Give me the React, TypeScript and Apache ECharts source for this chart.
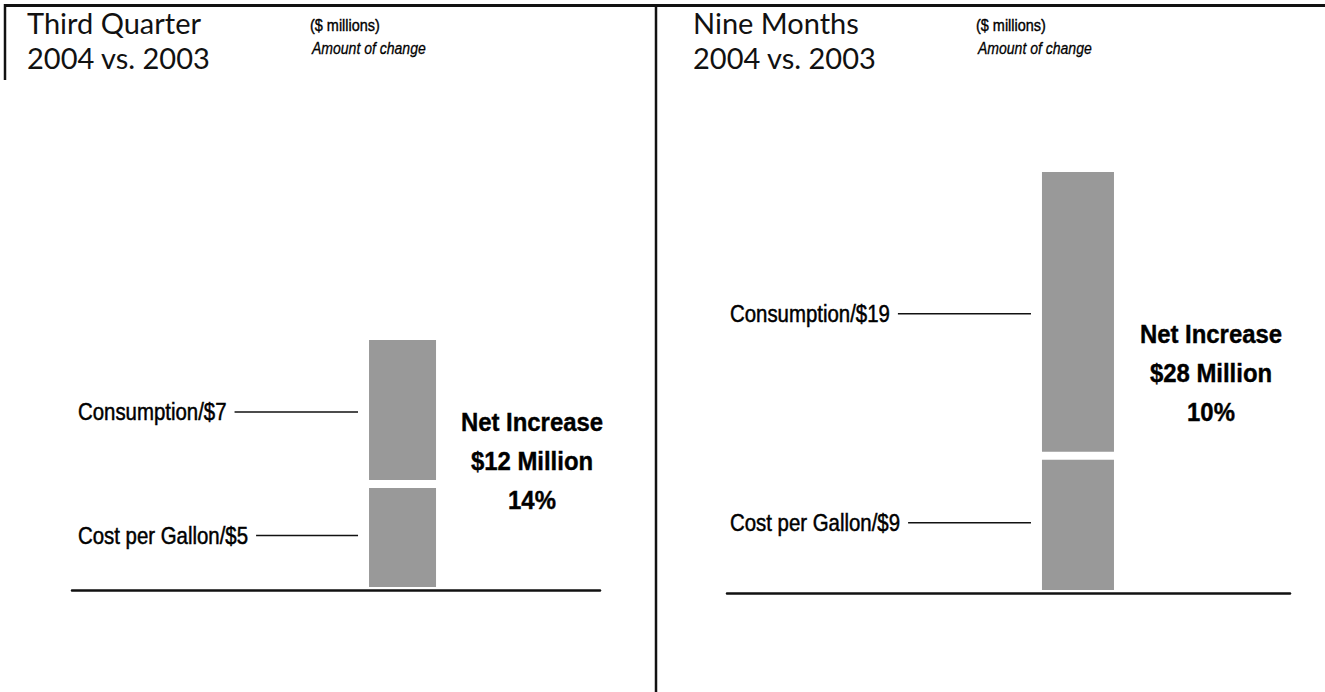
import React, { useEffect, useRef } from "react";
import * as echarts from "echarts";

// ---------- data ----------
const panelTitles = ["Third Quarter", "Nine Months"];
const panelSubtitle = "2004 vs. 2003";
const unitNote = "($ millions)";
const changeNote = "Amount of change";
const componentNames = ["Cost per Gallon", "Consumption"]; // bottom -> top
const thirdQuarterValues = [5, 7];
const nineMonthsValues = [9, 19];
const netIncreaseMillions = [12, 28];
const netIncreasePercent = [14, 10];

// ---------- layout ----------
const TITLE_FONT = "Lato, 'Open Sans', 'DejaVu Sans', sans-serif";
const COND_FONT = "'Liberation Sans', Arial, 'DejaVu Sans', sans-serif";
const COND_SCALE = 0.85;
const BAR_COLOR = "#999999";
const INK = "#111111";

const PANELS = [
  {
    values: thirdQuarterValues,
    gridLeft: 72,
    gridWidth: 528,
    gridTop: 340,
    gridBottomY: 587,
    barFrac: 0.626,
    barWidth: 67,
    labelX: 78,
    netX: 532,
    netY: 461,
    titleX: 27,
    noteX: 310,
  },
  {
    values: nineMonthsValues,
    gridLeft: 727,
    gridWidth: 563,
    gridTop: 172,
    gridBottomY: 590,
    barFrac: 0.6234,
    barWidth: 72,
    labelX: 730,
    netX: 1211,
    netY: 373,
    titleX: 693,
    noteX: 976,
  },
];

const LABEL_SIZE = 24;
const NET_SIZE = 26;
const NET_SCALE = 0.92;
const HALF_GAP = 4;

let measureCtx: CanvasRenderingContext2D | null = null;
function textWidth(text: string, font: string): number {
  if (!measureCtx) measureCtx = document.createElement("canvas").getContext("2d");
  if (!measureCtx) return text.length * 10;
  measureCtx.font = font;
  return measureCtx.measureText(text).width;
}

function buildOption() {
  const grid: any[] = [];
  const xAxis: any[] = [];
  const yAxis: any[] = [];
  const series: any[] = [];
  const graphic: any[] = [];

  PANELS.forEach((p, i) => {
    const total = p.values.reduce((a, b) => a + b, 0);
    grid.push({
      left: p.gridLeft,
      top: p.gridTop,
      width: p.gridWidth,
      height: p.gridBottomY - p.gridTop,
    });
    xAxis.push({
      type: "value",
      gridIndex: i,
      min: 0,
      max: 1,
      offset: 3,
      axisLine: { show: true, onZero: false, lineStyle: { color: INK, width: 2.5 } },
      axisTick: { show: false },
      axisLabel: { show: false },
      splitLine: { show: false },
    });
    yAxis.push({
      type: "value",
      gridIndex: i,
      min: 0,
      max: total,
      show: false,
      splitLine: { show: false },
    });

    let cum = 0;
    const segs = p.values.map((v, k) => {
      const s = [cum, cum + v, k, v];
      cum += v;
      return s;
    });
    const n = p.values.length;
    const labelFont = `normal normal ${LABEL_SIZE}px ${COND_FONT}`;

    series.push({
      type: "custom",
      xAxisIndex: i,
      yAxisIndex: i,
      silent: true,
      data: segs,
      renderItem: (params: any, api: any) => {
        const y0 = api.value(0);
        const y1 = api.value(1);
        const k = api.value(2);
        const v = api.value(3);
        const pb = api.coord([p.barFrac, y0]);
        const pt = api.coord([p.barFrac, y1]);
        const bottom = pb[1] - (k > 0 ? HALF_GAP : 0);
        const top = pt[1] + (k < n - 1 ? HALF_GAP : 0);
        const left = pb[0] - p.barWidth / 2;
        const midY = (pb[1] + pt[1]) / 2;
        const label = `${componentNames[k]}/$${v}`;
        const tw = textWidth(label, labelFont) * COND_SCALE;
        return {
          type: "group",
          children: [
            {
              type: "rect",
              shape: { x: left, y: top, width: p.barWidth, height: bottom - top },
              style: { fill: BAR_COLOR },
            },
            {
              type: "text",
              x: p.labelX,
              y: midY,
              scaleX: COND_SCALE,
              style: {
                text: label,
                x: 0,
                y: 0,
                fill: "#000",
                stroke: "#000",
                lineWidth: 0.5,
                fontSize: LABEL_SIZE,
                fontFamily: COND_FONT,
                align: "left",
                verticalAlign: "middle",
              },
            },
            {
              type: "line",
              shape: { x1: p.labelX + tw + 8, y1: midY, x2: left - 11, y2: midY },
              style: { stroke: INK, lineWidth: 1.6 },
            },
          ],
        };
      },
    });

    // titles and notes
    graphic.push(
      {
        type: "text",
        x: p.titleX,
        y: 22,
        style: { text: panelTitles[i], fill: INK, fontSize: 29, fontWeight: 400, fontFamily: TITLE_FONT, verticalAlign: "middle" },
      },
      {
        type: "text",
        x: p.titleX,
        y: 57.5,
        style: { text: panelSubtitle, fill: INK, fontSize: 29, fontWeight: 400, fontFamily: TITLE_FONT, verticalAlign: "middle" },
      },
      {
        type: "text",
        x: p.noteX,
        y: 25,
        scaleX: COND_SCALE,
        style: { text: unitNote, fill: "#000", stroke: "#000", lineWidth: 0.4, fontSize: 17, fontFamily: COND_FONT, verticalAlign: "middle" },
      },
      {
        type: "text",
        x: p.noteX + 2,
        y: 48,
        scaleX: COND_SCALE,
        style: {
          text: changeNote,
          fill: "#000",
          stroke: "#000",
          lineWidth: 0.3,
          fontSize: 16.5,
          fontStyle: "italic",
          fontFamily: COND_FONT,
          verticalAlign: "middle",
        },
      },
      {
        type: "text",
        x: p.netX,
        y: p.netY,
        scaleX: NET_SCALE,
        style: {
          text: `Net Increase\n$${netIncreaseMillions[i]} Million\n${netIncreasePercent[i]}%`,
          fill: "#000",
          stroke: "#000",
          lineWidth: 0.4,
          fontSize: NET_SIZE,
          fontWeight: "bold",
          fontFamily: COND_FONT,
          lineHeight: 39,
          align: "center",
          verticalAlign: "middle",
        },
      }
    );
  });

  // frame lines
  graphic.push(
    { type: "line", shape: { x1: 4, y1: 5.5, x2: 1325, y2: 5.5 }, style: { stroke: INK, lineWidth: 3 } },
    { type: "line", shape: { x1: 5, y1: 4, x2: 5, y2: 80 }, style: { stroke: INK, lineWidth: 2.5 } },
    { type: "line", shape: { x1: 656, y1: 4, x2: 656, y2: 692 }, style: { stroke: INK, lineWidth: 2.5 } }
  );

  return {
    animation: false,
    backgroundColor: "#ffffff",
    grid,
    xAxis,
    yAxis,
    series,
    graphic,
  };
}

export default function App() {
  const ref = useRef<HTMLDivElement>(null);
  useEffect(() => {
    document.body.style.margin = "0";
    if (!ref.current) return;
    const chart = echarts.init(ref.current, undefined, { renderer: "svg" });
    chart.setOption(buildOption() as any);
    return () => chart.dispose();
  }, []);
  return <div ref={ref} style={{ width: 1325, height: 692 }} />;
}
